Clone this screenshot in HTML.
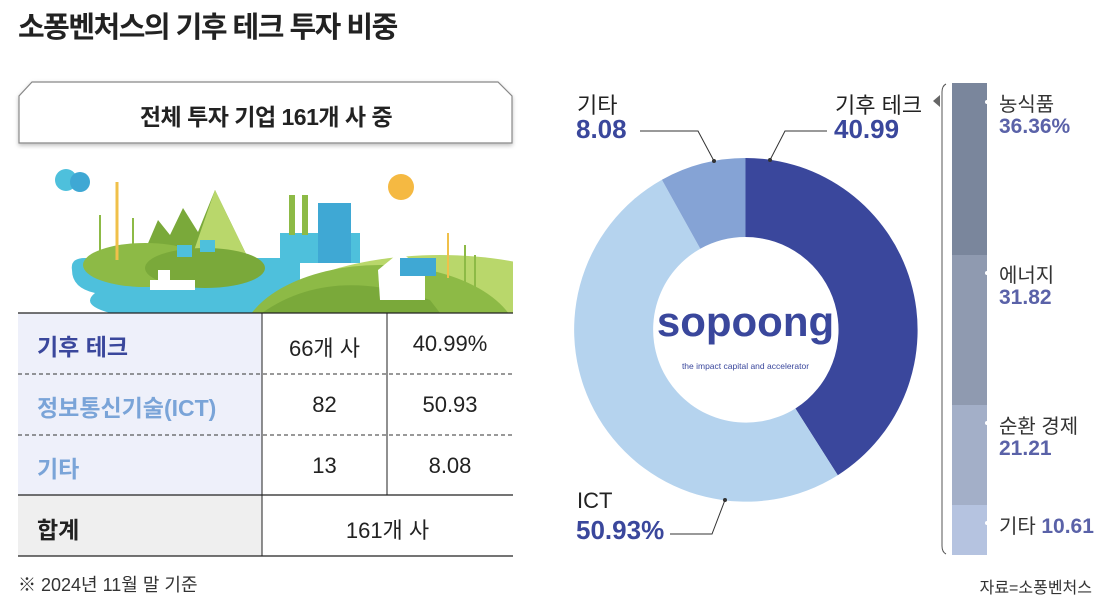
<!DOCTYPE html>
<html><head><meta charset="utf-8"><style>
body{margin:0;width:1110px;height:612px;background:#fff;position:relative;overflow:hidden;font-family:"Liberation Sans","Noto Sans CJK KR",sans-serif;color:#222}
.a{position:absolute;white-space:nowrap}
</style></head><body>
<div class="a" style="left:18px;top:4px;font-size:29px;font-weight:bold;letter-spacing:-1.5px;color:#222">소퐁벤처스의 기후 테크 투자 비중</div>

<svg class="a" style="left:0;top:0" width="1110" height="612">
<defs><filter id="sh"><feDropShadow dx="0" dy="2" stdDeviation="2" flood-opacity="0.25"/></filter>
<clipPath id="cp"><rect x="0" y="150" width="513" height="163"/></clipPath></defs>
<path d="M32,82 H498 L512,96 V143 H19 V96 Z" fill="#fff" stroke="#888" stroke-width="1.2" filter="url(#sh)"/>
<!-- illustration -->
<g clip-path="url(#cp)">
<path d="M72,270 Q70,258 85,258 H300 V313 H110 Q80,305 95,293 Q72,288 72,270Z" fill="#4ec0dc"/>
<polygon points="140,262 158,220 170,235 183,208 198,232 215,190 250,262" fill="#7aa93a"/>
<polygon points="190,262 215,190 250,262" fill="#b9d76b"/>
<ellipse cx="145" cy="265" rx="62" ry="22" fill="#8dba46"/>
<ellipse cx="205" cy="268" rx="60" ry="20" fill="#7aa93a"/>
<line x1="117" y1="182" x2="117" y2="260" stroke="#f0c04a" stroke-width="3"/>
<line x1="100" y1="215" x2="100" y2="255" stroke="#8dba46" stroke-width="2"/>
<line x1="133" y1="218" x2="133" y2="255" stroke="#8dba46" stroke-width="2"/>
<rect x="177" y="245" width="15" height="12" fill="#4ec0dc"/><rect x="200" y="240" width="15" height="12" fill="#4ec0dc"/>
<circle cx="66" cy="180" r="11" fill="#4ec0dc"/><circle cx="80" cy="182" r="10" fill="#3fa8d4"/>
<rect x="150" y="280" width="45" height="10" fill="#fff"/><rect x="158" y="270" width="12" height="10" fill="#fff"/>
<rect x="280" y="233" width="80" height="30" fill="#4ec0dc"/>
<rect x="318" y="203" width="33" height="60" fill="#3fa8d4"/>
<rect x="289" y="195" width="6" height="40" fill="#8dba46"/><rect x="302" y="195" width="6" height="40" fill="#8dba46"/>
<circle cx="401" cy="187" r="13" fill="#f5b942"/>
<ellipse cx="440" cy="330" rx="180" ry="75" fill="#b9d76b"/>
<ellipse cx="380" cy="345" rx="140" ry="80" fill="#8dba46"/>
<path d="M262,313 Q330,265 430,300 L440,313Z" fill="#7aa93a"/>
<polygon points="378,270 400,252 425,270 425,300 380,300" fill="#fff"/>
<rect x="400" y="258" width="36" height="18" fill="#3fa8d4"/>
<line x1="448" y1="233" x2="448" y2="278" stroke="#f0c04a" stroke-width="2"/>
<line x1="465" y1="245" x2="465" y2="283" stroke="#8dba46" stroke-width="2"/>
<line x1="475" y1="255" x2="475" y2="288" stroke="#8dba46" stroke-width="2"/>
</g>
<!-- table -->
<rect x="18" y="313" width="244" height="182" fill="#eef0fa"/>
<rect x="18" y="495" width="244" height="61" fill="#efefef"/>
<line x1="18" y1="313" x2="513" y2="313" stroke="#222" stroke-width="1.2"/>
<line x1="18" y1="374" x2="513" y2="374" stroke="#333" stroke-dasharray="4,3"/>
<line x1="18" y1="435" x2="513" y2="435" stroke="#333" stroke-dasharray="4,3"/>
<line x1="18" y1="495" x2="513" y2="495" stroke="#222" stroke-width="1.2"/>
<line x1="18" y1="556" x2="513" y2="556" stroke="#222" stroke-width="1.2"/>
<line x1="262" y1="313" x2="262" y2="556" stroke="#222"/>
<line x1="387" y1="313" x2="387" y2="495" stroke="#222"/>
<!-- donut -->
<path d="M745.5,158 A172,172 0 0 1 837.8,475.2 L795.4,408.5 A93,93 0 0 0 745.5,237 Z" fill="#3a479c"/>
<path d="M837.8,475.2 A172,172 0 1 1 661.9,179.7 L700.3,248.7 A93,93 0 1 0 795.4,408.5 Z" fill="#b5d3ee"/>
<path d="M661.9,179.7 A172,172 0 0 1 745.5,158 L745.5,237 A93,93 0 0 0 700.3,248.7 Z" fill="#85a3d5"/>
<polyline points="640,131 698,131 714,161" fill="none" stroke="#333" stroke-width="1"/><circle cx="714" cy="161" r="2" fill="#333"/>
<polyline points="827,131 785,131 770,160" fill="none" stroke="#333" stroke-width="1"/><circle cx="770" cy="160" r="2" fill="#333"/>
<polyline points="670,534 712,534 725,500" fill="none" stroke="#333" stroke-width="1"/><circle cx="725" cy="500" r="2" fill="#333"/>
<!-- bar -->
<rect x="952" y="83" width="35" height="172" fill="#7a869c"/>
<rect x="952" y="255" width="35" height="150" fill="#8f9ab0"/>
<rect x="952" y="405" width="35" height="100" fill="#a3afc8"/>
<rect x="952" y="505" width="35" height="50" fill="#b5c3e0"/>
<circle cx="987" cy="102" r="2" fill="#fff"/><circle cx="987" cy="273" r="2" fill="#fff"/><circle cx="987" cy="423" r="2" fill="#fff"/><circle cx="987" cy="523" r="2" fill="#fff"/>
<path d="M946,84 Q942,86 942,92 V546 Q942,552 946,554" fill="none" stroke="#555" stroke-width="1"/>
<polygon points="933,101 940,95 940,107" fill="#666"/>
</svg>

<div class="a" style="left:19px;top:98px;width:494px;text-align:center;font-size:23px;font-weight:bold;letter-spacing:-0.5px">전체 투자 기업 161개 사 중</div>

<div class="a" style="left:37px;top:328px;font-size:23px;font-weight:bold;color:#3a479c">기후 테크</div>
<div class="a" style="left:37px;top:389px;font-size:23px;font-weight:bold;color:#7aa4d8">정보통신기술(ICT)</div>
<div class="a" style="left:37px;top:450px;font-size:23px;font-weight:bold;color:#7aa4d8">기타</div>
<div class="a" style="left:37px;top:511px;font-size:23px;font-weight:bold;color:#222">합계</div>
<div class="a" style="left:262px;top:331px;width:125px;text-align:center;font-size:22px">66개 사</div>
<div class="a" style="left:387px;top:331px;width:126px;text-align:center;font-size:22px">40.99%</div>
<div class="a" style="left:262px;top:392px;width:125px;text-align:center;font-size:22px">82</div>
<div class="a" style="left:387px;top:392px;width:126px;text-align:center;font-size:22px">50.93</div>
<div class="a" style="left:262px;top:453px;width:125px;text-align:center;font-size:22px">13</div>
<div class="a" style="left:387px;top:453px;width:126px;text-align:center;font-size:22px">8.08</div>
<div class="a" style="left:262px;top:513px;width:251px;text-align:center;font-size:22px">161개 사</div>

<div class="a" style="left:18px;top:571px;font-size:18px;color:#333">※ 2024년 11월 말 기준</div>
<div class="a" style="right:18px;top:574px;font-size:16px;color:#333">자료=소퐁벤처스</div>

<div class="a" style="left:577px;top:88px;font-size:22px">기타</div>
<div class="a" style="left:576px;top:114px;font-size:26px;font-weight:bold;color:#3a479c">8.08</div>
<div class="a" style="left:835px;top:88px;font-size:22px">기후 테크</div>
<div class="a" style="left:834px;top:114px;font-size:26px;font-weight:bold;color:#3a479c">40.99</div>
<div class="a" style="left:577px;top:488px;font-size:22px">ICT</div>
<div class="a" style="left:576px;top:515px;font-size:26px;font-weight:bold;color:#3a479c">50.93%</div>

<div class="a" style="left:655px;top:298px;width:181px;text-align:center;font-size:42px;font-weight:bold;color:#3a479c;letter-spacing:0px">sopoong</div>
<div class="a" style="left:655px;top:361px;width:181px;text-align:center;font-size:8.5px;color:#3a479c">the impact capital and accelerator</div>

<div class="a" style="left:999px;top:88px;font-size:20px;color:#333">농식품</div>
<div class="a" style="left:999px;top:115px;font-size:21px;font-weight:bold;color:#5a62a8">36.36%</div>
<div class="a" style="left:999px;top:259px;font-size:20px;color:#333">에너지</div>
<div class="a" style="left:999px;top:286px;font-size:21px;font-weight:bold;color:#5a62a8">31.82</div>
<div class="a" style="left:999px;top:410px;font-size:20px;color:#333">순환 경제</div>
<div class="a" style="left:999px;top:437px;font-size:21px;font-weight:bold;color:#5a62a8">21.21</div>
<div class="a" style="left:999px;top:510px;font-size:20px;color:#333">기타 <span style="font-weight:bold;font-size:21px;color:#5a62a8">10.61</span></div>
</body></html>
